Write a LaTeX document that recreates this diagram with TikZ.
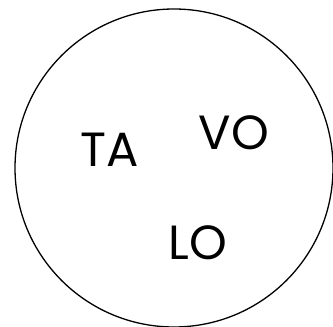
\documentclass[tikz,border=0pt]{standalone}
\usepackage{fontspec}
\setmainfont{Poppins}
\usepackage{tikz}
\usetikzlibrary{positioning}

\begin{document}
\begin{tikzpicture}[
  x=1pt, y=1pt,
  ring/.style={draw, line width=1.3pt},
  syll/.style={inner sep=0pt, font=\fontsize{48}{48}\selectfont},
]
  \useasboundingbox (0,0) rectangle (333,327);

  % Outer circle
  \node[ring, circle, minimum size=318pt, inner sep=0pt] (ring) at (174,159) {};

  % Syllables
  \node[syll] (ta) at (110,177) {TA};
  \node[syll] (vo) at (234,194) {VO};
  \node[syll] (lo) at (198,84) {LO};

\end{tikzpicture}
\end{document}
